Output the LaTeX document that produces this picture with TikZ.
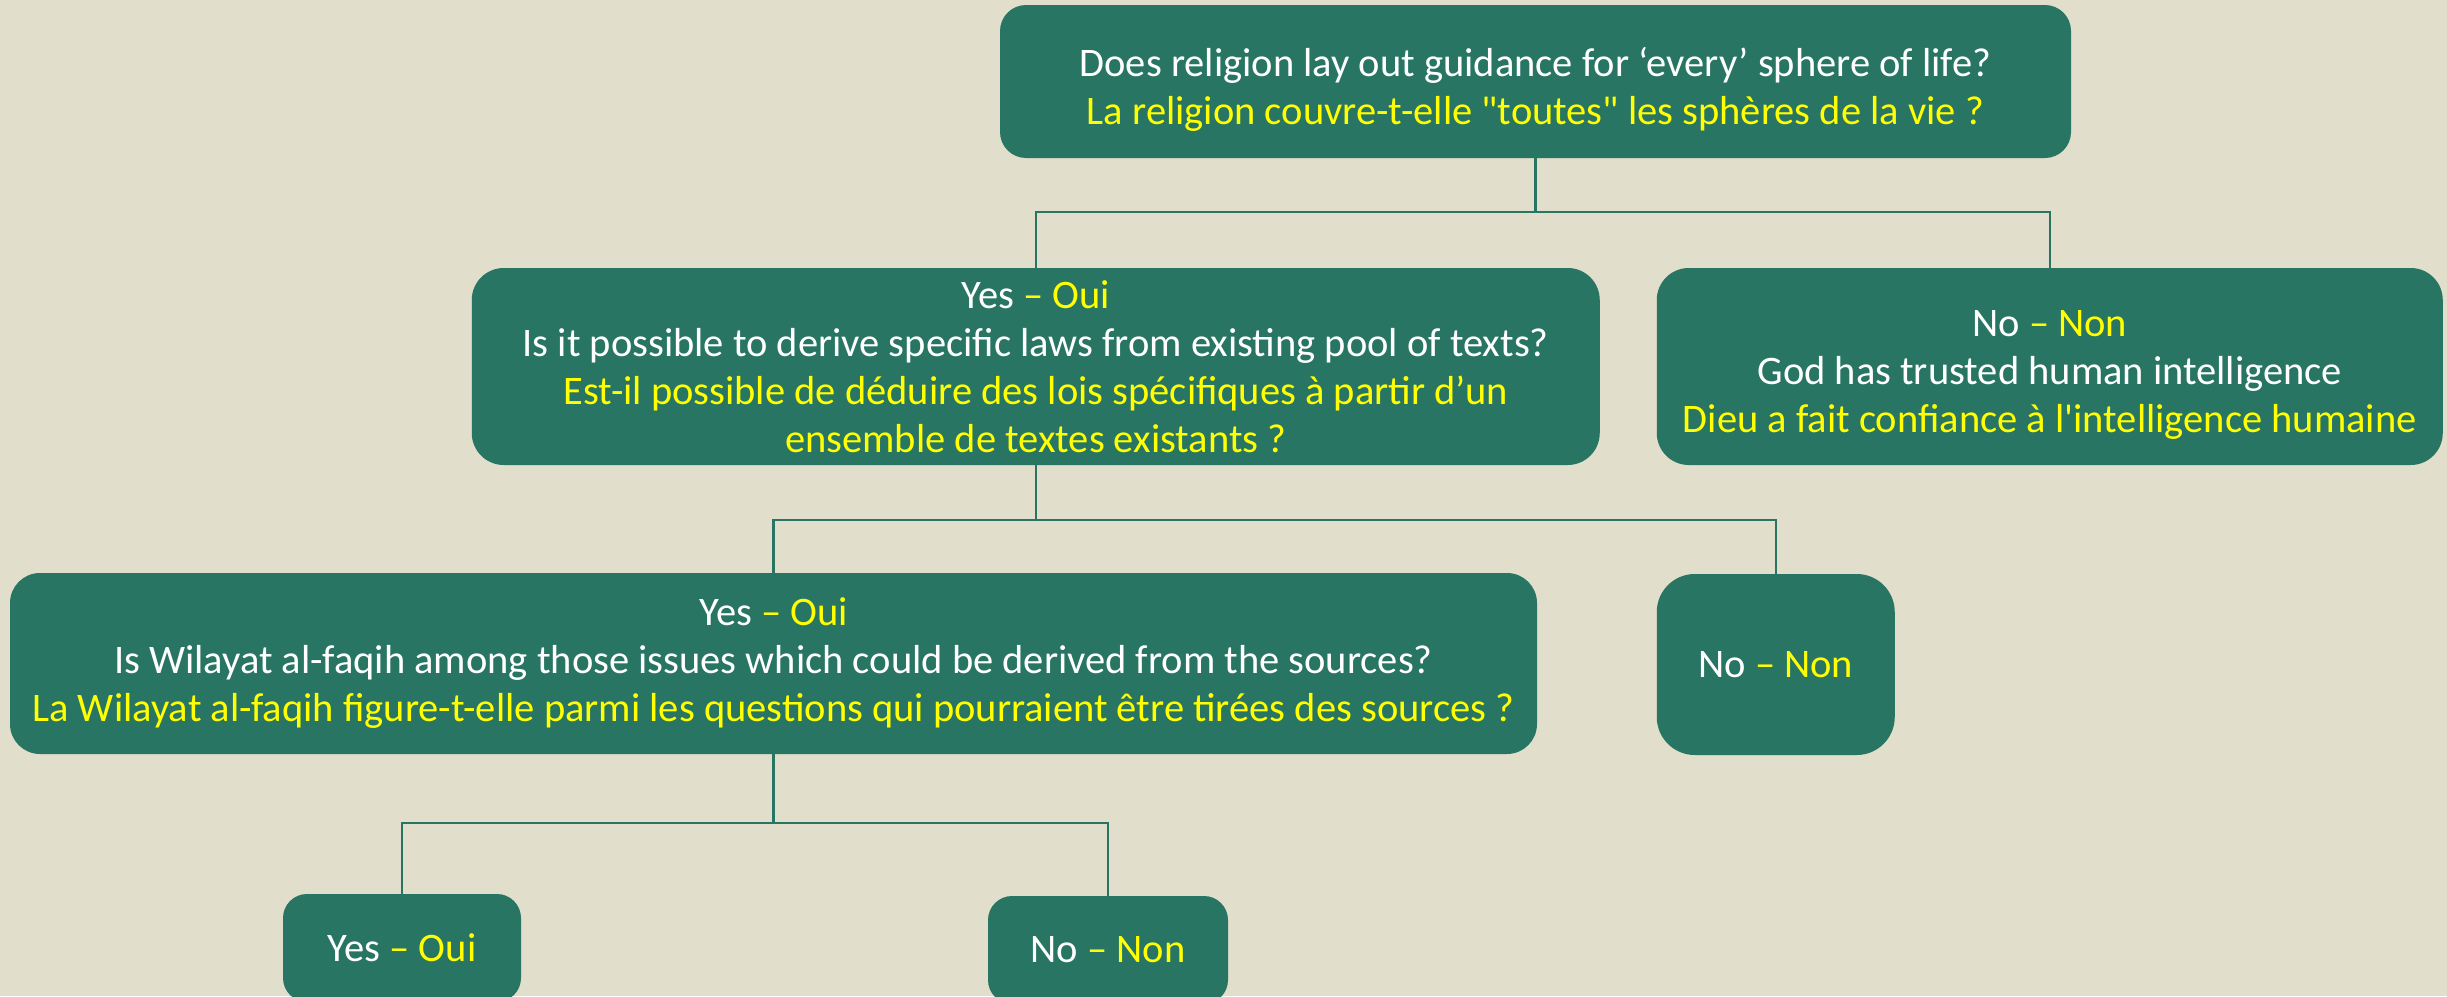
\documentclass[tikz,border=0pt]{standalone}
\usepackage{fontspec}
\newfontfamily\carl{Carlito}
\definecolor{bg}{HTML}{E1DFCC}
\definecolor{boxgreen}{HTML}{277562}
\definecolor{yel}{HTML}{FFFF00}
\begin{document}
\begin{tikzpicture}[x=1pt,y=-1pt,
  box/.style={fill=boxgreen, text=white, align=center, inner sep=0pt,
    font=\carl\fontsize{40.5}{48}\selectfont},
  conn/.style={draw=boxgreen, line width=2.5pt}]
\fill[bg] (0,0) rectangle (2447,996);
\useasboundingbox (0,0) rectangle (2447,996);

\node[box, rounded corners=26pt, minimum width=1071pt, minimum height=153pt] (top) at (1535.5,81.5)
 {\rule{0pt}{44pt}Does religion lay out guidance for ‘every’ sphere of life?\\
  {\color{yel}La religion couvre-t-elle "toutes" les sphères de la vie ?}};

\node[box, rounded corners=32pt, minimum width=1128pt, minimum height=197pt] (yes1) at (1035.75,366.5)
 {Yes {\color{yel}– Oui}\\
  Is it possible to derive specific laws from existing pool of texts?\\
  {\color{yel}Est-il possible de déduire des lois spécifiques à partir d’un}\\
  {\color{yel}ensemble de textes existants ?}};

\node[box, rounded corners=32pt, minimum width=786pt, minimum height=197pt] (no1) at (2049.75,366.5)
 {\rule{0pt}{42pt}No {\color{yel}– Non}\\
  God has trusted human intelligence\\
  {\color{yel}Dieu a fait confiance à l'intelligence humaine}};

\node[box, rounded corners=30pt, minimum width=1527pt, minimum height=181pt] (yes2) at (773.5,663.5)
 {Yes {\color{yel}– Oui}\\
  Is Wilayat al-faqih among those issues which could be derived from the sources?\\
  {\color{yel}La Wilayat al-faqih figure-t-elle parmi les questions qui pourraient être tirées des sources ?}};

\node[box, rounded corners=38pt, minimum width=238pt, minimum height=181pt] (no2) at (1775.75,664.5)
 {No {\color{yel}– Non}};

\node[box, rounded corners=24pt, minimum width=238pt, minimum height=108pt] (yes3) at (402,948)
 {Yes {\color{yel}– Oui}};

\node[box, rounded corners=24pt, minimum width=240pt, minimum height=108pt] (no3) at (1108,950)
 {No {\color{yel}– Non}};

\coordinate (j1) at (1535.5,212);
\coordinate (j2) at (1035.75,520);
\coordinate (j3) at (773.5,823);

\draw[conn] (top.south) -- (j1);
\draw[conn] (yes1.north) |- (j1) -| (no1.north);
\draw[conn] (yes1.south) -- (j2);
\draw[conn] (yes2.north) |- (j2) -| (no2.north);
\draw[conn] (yes2.south) -- (j3);
\draw[conn] (yes3.north) |- (j3) -| (no3.north);
\end{tikzpicture}
\end{document}
